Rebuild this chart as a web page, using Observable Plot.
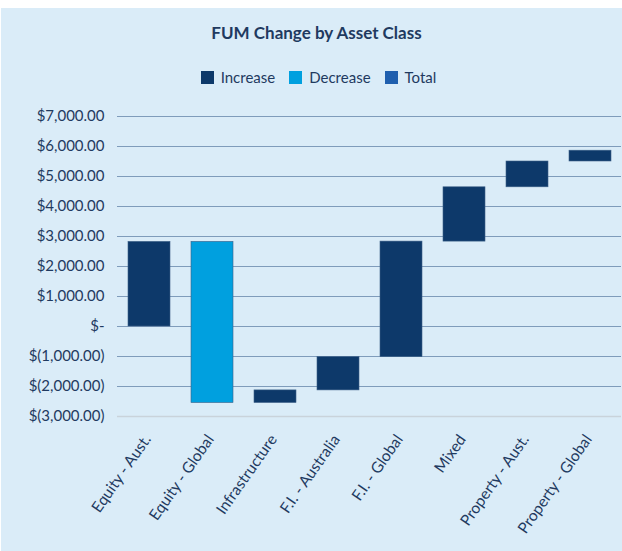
<!DOCTYPE html>
<html>
<head>
<meta charset="utf-8">
<script src="https://cdn.jsdelivr.net/npm/d3@7"></script>
<script src="https://cdn.jsdelivr.net/npm/@observablehq/plot@0.6"></script>
<style>
  html, body { margin: 0; padding: 0; background: #ffffff; }
  #frame {
    position: absolute; left: 1px; top: 8px; width: 621px; height: 543px;
    background: #daecf8; font-family: Lato, "Open Sans", sans-serif; color: #1f3a60;
    overflow: hidden;
  }
  #title { position: absolute; left: 5px; width: 621px; top: 14px; text-align: center;
    font-weight: bold; font-size: 17px; color: #1f3a60; }
  #legend { position: absolute; left: 7px; width: 621px; top: 60px; display: flex;
    justify-content: center; gap: 14px; font-size: 15px; color: #1f3a60; }
  #legend .item { display: flex; align-items: center; gap: 7px; }
  #legend .sw { width: 13px; height: 13px; display: inline-block; }
  #chart { position: absolute; left: 0; top: 92px; }
</style>
</head>
<body>
<div id="frame">
  <div id="title">FUM Change by Asset Class</div>
  <div id="legend"></div>
  <div id="chart"></div>
</div>
<script>
const categories = ["Equity - Aust.", "Equity - Global", "Infrastructure", "F.I. - Australia", "F.I. - Global", "Mixed", "Property - Aust.", "Property - Global"];
const changes = [2820, -5370, 420, 1110, 3850, 1810, 860, 360];
const seriesNames = ["Increase", "Decrease", "Total"];
const seriesColors = ["#0d396a", "#00a0df", "#1f5fae"];
const yTicks = [-3000, -2000, -1000, 0, 1000, 2000, 3000, 4000, 5000, 6000, 7000];

const ends = d3.cumsum(changes);
const rows = categories.map((c, i) => ({
  category: c,
  start: i === 0 ? 0 : ends[i - 1],
  end: ends[i],
  type: changes[i] >= 0 ? "Increase" : "Decrease"
}));

const legend = document.getElementById("legend");
seriesNames.forEach((n, i) => {
  const it = document.createElement("div");
  it.className = "item";
  it.innerHTML = `<span class="sw" style="background:${seriesColors[i]}"></span><span>${n}</span>`;
  legend.appendChild(it);
});

const num = d3.format(",.2f");
const fmtY = d => d === 0 ? "$-" : d < 0 ? `$(${num(-d)})` : `$${num(d)}`;

const chart = Plot.plot({
  width: 621,
  height: 443,
  marginLeft: 116,
  marginRight: 1,
  marginTop: 16,
  marginBottom: 127,
  style: { background: "transparent", fontFamily: "Lato, 'Open Sans', sans-serif", color: "#1f3a60" },
  x: { domain: categories, paddingInner: 0.34, paddingOuter: 0.17 },
  y: { domain: [-3000, 7000] },
  color: { domain: seriesNames, range: seriesColors },
  marks: [
    Plot.ruleY(yTicks.filter(d => d > -3000), { stroke: "#7f9cbb", strokeWidth: 1 }),
    Plot.ruleY([-3000], { stroke: "#c9d3db", strokeWidth: 1.5 }),
    Plot.barY(rows, { x: "category", y1: "start", y2: "end", fill: "type", stroke: "#3d6088", strokeWidth: 0.6 }),
    Plot.axisY({ ticks: yTicks, tickFormat: fmtY, tickSize: 0, tickPadding: 13, fontSize: 15, fill: "#1f3a60", label: null }),
    Plot.axisX({ tickSize: 0, tickRotate: -55, tickPadding: 20, dx: -2, fontSize: 15.5, fill: "#1f3a60", label: null })
  ]
});
document.getElementById("chart").appendChild(chart);
</script>
</body>
</html>
